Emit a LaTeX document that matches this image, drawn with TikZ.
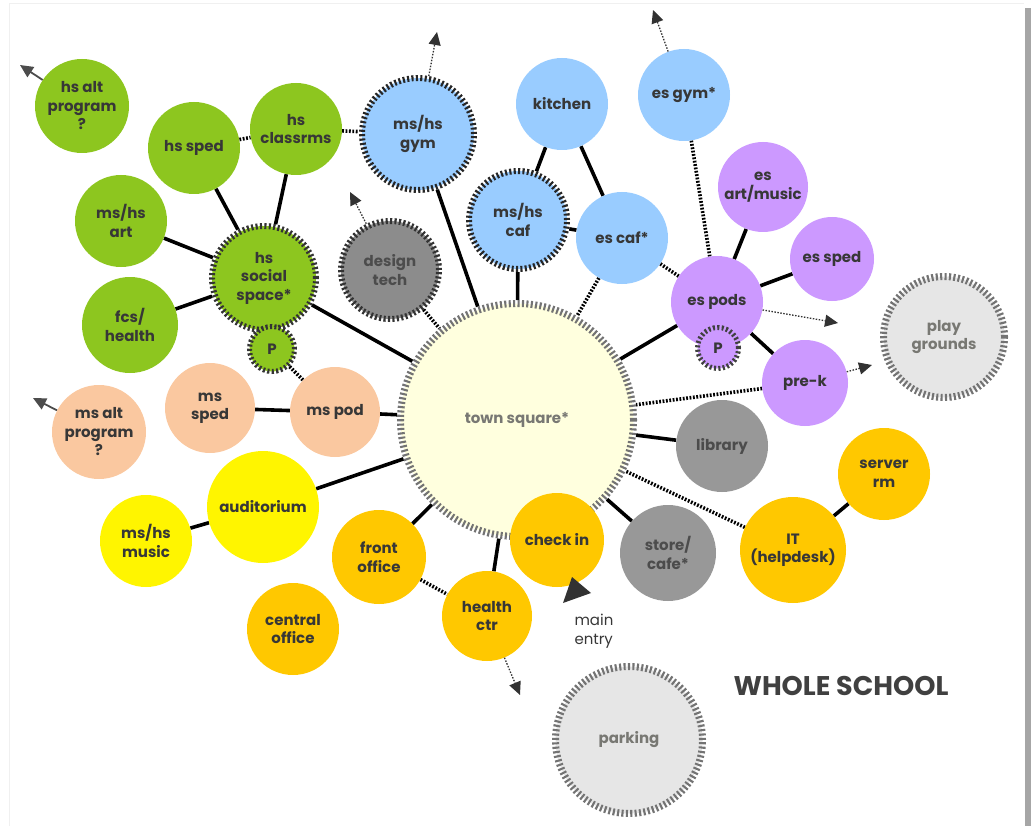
\documentclass[tikz,border=0pt]{standalone}
\usepackage{fontspec}
\setmainfont{Poppins}
\usetikzlibrary{arrows.meta,positioning,backgrounds}
\definecolor{hsGreen}{RGB}{141,198,31}
\definecolor{msPeach}{RGB}{250,200,160}
\definecolor{artYellow}{RGB}{255,245,0}
\definecolor{adminGold}{RGB}{255,200,0}
\definecolor{sharedGray}{RGB}{152,152,152}
\definecolor{techGray}{RGB}{140,140,140}
\definecolor{outdoorGray}{RGB}{230,230,230}
\definecolor{gymBlue}{RGB}{153,204,255}
\definecolor{esPurple}{RGB}{204,153,255}
\definecolor{squareCream}{RGB}{255,255,222}
\definecolor{roomText}{RGB}{55,55,55}
\definecolor{softText}{RGB}{120,120,115}
\definecolor{tipGray}{RGB}{50,50,50}

\begin{document}
\begin{tikzpicture}[
  x=1pt, y=-1pt,
  font=\fontsize{15}{18.5}\selectfont\bfseries,
  room/.style={circle, inner sep=0pt, align=center, text=roomText},
  hatch/.style={draw=#1, line width=6pt, dash pattern=on 2.1pt off 2.3pt},
  solidlink/.style={line width=3.6pt, black},
  dotlink/.style={line width=3.6pt, black, dash pattern=on 1.8pt off 1.6pt},
  offsite/.style={line width=1.3pt, black!70, dash pattern=on 1.5pt off 1.5pt,
    -{Triangle[length=13pt,width=12pt]}, tipGray},
  offsitesolid/.style={line width=1.8pt, black!70,
    -{Triangle[length=13pt,width=12pt]}}
]
\useasboundingbox (0,0) rectangle (1032,826);

% page edge
\draw[black!6] (9,826) |- (1024,3);
\fill[black!35] (1025,8) rectangle (1031,826);

% high school
\node[room, fill=hsGreen, minimum size=94pt] (hsalt) at (82,106) {hs alt\\program\\?};
\node[room, fill=hsGreen, minimum size=92pt] (hssped) at (194,148) {hs sped};
\node[room, fill=hsGreen, minimum size=92pt] (hsclass) at (296,129) {hs\\classrms};
\node[room, fill=hsGreen, minimum size=92pt] (msart) at (121,221) {ms/hs\\art};
\node[room, fill=hsGreen, minimum size=96pt] (fcs) at (130,325) {fcs/\\health};
\node[room, fill=hsGreen, hatch=black!80, minimum size=104pt] (hssocial) at (264,278) {hs\\social\\space*};
\node[room, fill=hsGreen, hatch=black!80, line width=5pt, minimum size=45pt] (pgreen) at (272,349) {P};

% middle school
\node[room, fill=msPeach, minimum size=94pt] (msalt) at (99,432) {ms alt\\program\\?};
\node[room, fill=msPeach, minimum size=90pt] (mssped) at (210,408) {ms\\sped};
\node[room, fill=msPeach, minimum size=90pt] (mspod) at (335,412) {ms pod};

% performing arts
\node[room, fill=artYellow, minimum size=112pt] (audit) at (263,507) {auditorium};
\node[room, fill=artYellow, minimum size=92pt] (music) at (146,541) {ms/hs\\music};

% shared core
\node[room, fill=techGray, hatch=black!80, minimum size=98pt, text=black!70] (design) at (390,270) {design\\tech};
\node[room, fill=squareCream, hatch=black!55, line width=7pt, minimum size=233pt,
  text=softText] (town) at (517,420) {town square*};
\node[room, fill=sharedGray, minimum size=92pt, text=black!70] (library) at (722,446) {library};
\node[room, fill=sharedGray, minimum size=96pt, text=black!70] (store) at (668,553) {store/\\cafe*};

% offices
\node[room, fill=adminGold, minimum size=94pt] (front) at (379,557) {front\\office};
\node[room, fill=adminGold, minimum size=92pt] (central) at (293,629) {central\\office};
\node[room, fill=adminGold, minimum size=90pt] (health) at (487,616) {health\\ctr};
\node[room, fill=adminGold, minimum size=94pt] (checkin) at (557,540) {check in};
\node[room, fill=adminGold, minimum size=106pt] (it) at (793,550) {IT\\(helpdesk)};
\node[room, fill=adminGold, minimum size=92pt] (server) at (884,474) {server\\rm};

% gyms and cafeterias
\node[room, fill=gymBlue, hatch=black!85, minimum size=112pt] (gym) at (418,134) {ms/hs\\gym};
\node[room, fill=gymBlue, minimum size=92pt] (kitchen) at (562,104) {kitchen};
\node[room, fill=gymBlue, hatch=black!85, minimum size=98pt] (mscaf) at (518,220) {ms/hs\\caf};
\node[room, fill=gymBlue, minimum size=92pt] (escaf) at (622,238) {es caf*};
\node[room, fill=gymBlue, minimum size=92pt] (esgym) at (684,95) {es gym*};

% elementary school
\node[room, fill=esPurple, minimum size=90pt] (esart) at (763,187) {es\\art/music};
\node[room, fill=esPurple, minimum size=84pt] (essped) at (832,259) {es sped};
\node[room, fill=esPurple, minimum size=92pt] (espods) at (717,302) {es pods};
\node[room, fill=esPurple, hatch=black!75, line width=5pt, minimum size=41pt] (ppurple) at (718,348) {P};
\node[room, fill=esPurple, minimum size=86pt] (prek) at (805,383) {pre-k};

% outdoors
\node[room, fill=outdoorGray, hatch=black!55, line width=7pt, minimum size=121pt,
  text=softText] (play) at (944,337) {play\\grounds};
\node[room, fill=outdoorGray, hatch=black!55, line width=7pt, minimum size=147pt,
  text=softText] (parking) at (629,740) {parking};

% main entry
\fill[tipGray] (563,603) -- (591,593) -- (572,577) -- cycle;
\node[align=left, font=\fontsize{15}{19}\selectfont, text=roomText, anchor=north west]
  (entry) at (571,611) {main\\entry};

\node[font=\fontsize{27}{31}\selectfont\bfseries, text=black!75] (title) at (841,686) {WHOLE SCHOOL};

% free ends of the outgoing arrows
\coordinate (hsaltout) at (20,65);
\coordinate (msaltout) at (33,398);
\coordinate (gymout) at (437,32);
\coordinate (designout) at (350,192);
\coordinate (esgymout) at (653,10);
\coordinate (espodsout) at (838,323);
\coordinate (prekout) at (872,365);
\coordinate (healthout) at (520,695);

\begin{scope}[on background layer]
  % solid adjacencies
  \draw[solidlink] (hssped) -- (hssocial);
  \draw[solidlink] (hsclass) -- (hssocial);
  \draw[solidlink] (msart) -- (hssocial);
  \draw[solidlink] (fcs) -- (hssocial);
  \draw[solidlink] (hssocial) -- (town);
  \draw[solidlink] (gym) -- (town);
  \draw[solidlink] (kitchen) -- (mscaf);
  \draw[solidlink] (kitchen) -- (escaf);
  \draw[solidlink] (mscaf) -- (escaf);
  \draw[solidlink] (mscaf) -- (town);
  \draw[solidlink] (espods) -- (town);
  \draw[solidlink] (esart) -- (espods);
  \draw[solidlink] (essped) -- (espods);
  \draw[solidlink] (espods) -- (prek);
  \draw[solidlink] (library) -- (town);
  \draw[solidlink] (server) -- (it);
  \draw[solidlink] (store) -- (town);
  \draw[solidlink] (health) -- (town);
  \draw[solidlink] (front) -- (town);
  \draw[solidlink] (audit) -- (town);
  \draw[solidlink] (music) -- (audit);
  \draw[solidlink] (mspod) -- (town);
  \draw[solidlink] (mssped) -- (mspod);

  % dotted adjacencies
  \draw[dotlink] (hssped) -- (hsclass);
  \draw[dotlink] (hsclass) -- (gym);
  \draw[dotlink] (escaf) -- (town);
  \draw[dotlink] (escaf) -- (espods);
  \draw[dotlink] (esgym) -- (espods);
  \draw[dotlink] (prek) -- (town);
  \draw[dotlink] (it) -- (town);
  \draw[dotlink] (pgreen) -- (mspod);
  \draw[dotlink] (design) -- (town);
  \draw[dotlink] (front) -- (health);
\end{scope}

% links off the campus
\draw[offsitesolid] (hsalt) -- (hsaltout);
\draw[offsitesolid] (msalt) -- (msaltout);
\draw[offsite] (gym) -- (gymout);
\draw[offsite] (design) -- (designout);
\draw[offsite] (esgym) -- (esgymout);
\draw[offsite] (espods) -- (espodsout);
\draw[offsite] (prek) -- (prekout);
\draw[offsite] (health) -- (healthout);

\end{tikzpicture}
\end{document}
